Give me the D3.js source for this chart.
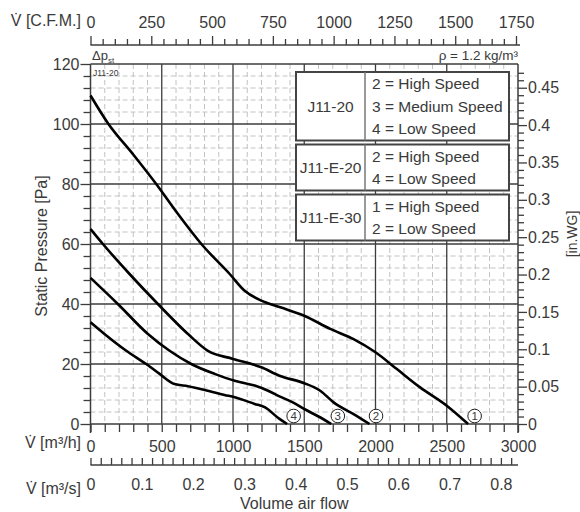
<!DOCTYPE html>
<html>
<head>
<meta charset="utf-8">
<script src="https://cdn.jsdelivr.net/npm/d3@7/dist/d3.min.js"></script>
<style>
  html, body { margin: 0; padding: 0; background: #fff; }
  svg { display: block; }
  text { font-family: "Liberation Sans", Arial, sans-serif; fill: #3a3a3a; }
</style>
</head>
<body>
<script>
// ---------------- DATA ----------------
const curve1Flow = [0, 126, 297, 461, 614, 778, 977, 1082, 1199, 1332, 1500, 1682, 1846, 2000, 2150, 2313, 2500, 2650];
const curve1Pa   = [109.5, 100, 90, 80, 70, 60, 50, 44.4, 41.1, 38.9, 36.1, 31.7, 28.3, 23.9, 18.3, 12.2, 6.1, 0];

const curve2Flow = [0, 87, 274, 473, 684, 824, 1000, 1199, 1326, 1500, 1612, 1706, 1846, 1958];
const curve2Pa   = [65, 60, 50, 40, 30, 24.4, 21.7, 18.9, 16.1, 13.6, 11.1, 7.2, 3.3, 0];

const curve3Flow = [0, 192, 403, 555, 707, 871, 1012, 1152, 1246, 1326, 1420, 1500, 1600, 1690];
const curve3Pa   = [48.7, 40, 30, 24.4, 20, 16.7, 14.4, 12.8, 11.1, 9.2, 7.2, 5.0, 2.5, 0];

const curve4Flow = [0, 98, 251, 391, 485, 590, 684, 824, 941, 1012, 1152, 1222, 1326, 1380];
const curve4Pa   = [33.9, 30, 24.4, 20, 16.7, 13.3, 12.6, 11.1, 9.7, 8.9, 6.7, 5.6, 1.7, 0];

const curveNames = ["1", "2", "3", "4"];

const flowTicksM3h = [0, 500, 1000, 1500, 2000, 2500, 3000];
const flowTicksCfm = [0, 250, 500, 750, 1000, 1250, 1500, 1750];
const flowTicksM3s = [0, 0.1, 0.2, 0.3, 0.4, 0.5, 0.6, 0.7, 0.8];
const paTicks = [0, 20, 40, 60, 80, 100, 120];
const inwgTicks = [0, 0.05, 0.1, 0.15, 0.2, 0.25, 0.3, 0.35, 0.4, 0.45];

const legendModels = ["J11-20", "J11-E-20", "J11-E-30"];
const legendLines = [
  ["2 = High Speed", "3 = Medium Speed", "4 = Low Speed"],
  ["2 = High Speed", "4 = Low Speed"],
  ["1 = High Speed", "2 = Low Speed"]
];

// ---------------- SETUP ----------------
const W = 580, H = 512;
const svg = d3.select("body").append("svg").attr("width", W).attr("height", H);
svg.append("rect").attr("width", W).attr("height", H).attr("fill", "#fff");

const L = 90.5, R = 518, T = 64, B = 424;
const x = d3.scaleLinear().domain([0, 3000]).range([L, R]);
const y = d3.scaleLinear().domain([0, 120]).range([B, T]);
const yIn = d3.scaleLinear().domain([0, 120 / 249.089]).range([B, T]);
const xCfm = d3.scaleLinear().domain([0, 1750]).range([L, 516]);
const xMs = d3.scaleLinear().domain([0, 3000 / 3600]).range([L, R]);

const gridColor = "#3c3c3c";
const minorColor = "#c2c2c2";
const textColor = "#3a3a3a";

// minor dashed grid
const g = svg.append("g");
g.selectAll("line.vminor").data(d3.range(100, 3000, 100).filter(v => v % 500 !== 0))
  .enter().append("line")
  .attr("x1", d => x(d)).attr("x2", d => x(d)).attr("y1", y(120)).attr("y2", y(0))
  .attr("stroke", minorColor).attr("stroke-width", 1).attr("stroke-dasharray", "5,3");
g.selectAll("line.hminor").data(d3.range(4, 120, 4).filter(v => v % 20 !== 0))
  .enter().append("line")
  .attr("x1", x(0)).attr("x2", x(3000)).attr("y1", d => y(d)).attr("y2", d => y(d))
  .attr("stroke", minorColor).attr("stroke-width", 1).attr("stroke-dasharray", "5,3");

// major grid
g.selectAll("line.vmajor").data([500, 1000, 1500, 2000, 2500])
  .enter().append("line")
  .attr("x1", d => x(d)).attr("x2", d => x(d)).attr("y1", y(120)).attr("y2", y(0))
  .attr("stroke", gridColor).attr("stroke-width", 1.3);
g.selectAll("line.hmajor").data([20, 40, 60, 80, 100, 120])
  .enter().append("line")
  .attr("x1", x(0)).attr("x2", x(3000)).attr("y1", d => y(d)).attr("y2", d => y(d))
  .attr("stroke", gridColor).attr("stroke-width", 1.3);

// ---------------- AXES ----------------
function styleAxis(sel) {
  sel.select(".domain").remove();
  sel.selectAll("line").attr("stroke", gridColor).attr("stroke-width", 1.3);
  sel.selectAll("text").style("font-size", "16px").attr("fill", textColor);
}

// left axis (Pa)
const gl = svg.append("g").attr("transform", `translate(${L},0)`);
gl.call(d3.axisLeft(y).tickValues(d3.range(0, 121, 4)).tickSize(7).tickFormat(""));
gl.call(styleAxis);
gl.selectAll(".tick line").filter(d => d % 20 === 0).attr("x2", -10);
const glLab = svg.append("g").attr("transform", `translate(${L},0)`)
  .call(d3.axisLeft(y).tickValues(paTicks).tickSize(10).tickPadding(1));
glLab.call(styleAxis);
glLab.selectAll("line").remove();

svg.append("line").attr("x1", L).attr("x2", L).attr("y1", T).attr("y2", B + 9)
  .attr("stroke", gridColor).attr("stroke-width", 1.5);

// right axis (in.WG)
const gr = svg.append("g").attr("transform", `translate(${R},0)`);
gr.call(d3.axisRight(yIn).tickValues(d3.range(0, 48).map(i => i / 100)).tickSize(6).tickFormat(""));
gr.call(styleAxis);
gr.selectAll(".tick line").filter(d => Math.round(d * 100) % 5 === 0).attr("x2", 9);
const grLab = svg.append("g").attr("transform", `translate(${R},0)`)
  .call(d3.axisRight(yIn).tickValues(inwgTicks).tickSize(9).tickPadding(1).tickFormat(d => d3.format("~g")(d)));
grLab.call(styleAxis);
grLab.selectAll("line").remove();
svg.append("line").attr("x1", R).attr("x2", R).attr("y1", T).attr("y2", B + 9)
  .attr("stroke", gridColor).attr("stroke-width", 1.5);

// bottom axis (m3/h)
const gb = svg.append("g").attr("transform", `translate(0,${B})`);
gb.call(d3.axisBottom(x).tickValues(d3.range(0, 3001, 100)).tickSize(8).tickFormat(""));
gb.call(styleAxis);
const gbLab = svg.append("g").attr("transform", `translate(0,${B})`)
  .call(d3.axisBottom(x).tickValues(flowTicksM3h).tickSize(9).tickPadding(8).tickFormat(d3.format("d")));
gbLab.call(styleAxis);
gbLab.selectAll("line").remove();
svg.append("line").attr("x1", L).attr("x2", R).attr("y1", B).attr("y2", B)
  .attr("stroke", gridColor).attr("stroke-width", 1.5);

// top axis (CFM)
const cfmY = 45;
const gt = svg.append("g").attr("transform", `translate(0,${cfmY})`);
gt.call(d3.axisTop(xCfm).tickValues(d3.range(0, 1751, 50)).tickSize(6).tickFormat(""));
gt.call(styleAxis);
gt.selectAll(".tick line").filter(d => d % 250 === 0).attr("y2", -9);
const gtLab = svg.append("g").attr("transform", `translate(0,${cfmY})`)
  .call(d3.axisTop(xCfm).tickValues(flowTicksCfm).tickSize(9).tickPadding(8).tickFormat(d3.format("d")));
gtLab.call(styleAxis);
gtLab.selectAll("line").remove();
svg.append("line").attr("x1", L).attr("x2", 520).attr("y1", cfmY).attr("y2", cfmY)
  .attr("stroke", gridColor).attr("stroke-width", 1.5);

// m3/s axis
const msY = 465;
const gs = svg.append("g").attr("transform", `translate(0,${msY})`);
gs.call(d3.axisTop(xMs).tickValues(d3.range(0, 42).map(i => i * 0.02)).tickSize(7).tickFormat(""));
gs.call(styleAxis);
const gsLab = svg.append("g").attr("transform", `translate(0,${msY})`)
  .call(d3.axisBottom(xMs).tickValues(flowTicksM3s).tickSize(0).tickPadding(14).tickFormat(d => d3.format("~g")(d)));
gsLab.call(styleAxis);
gsLab.selectAll("line").remove();
svg.append("line").attr("x1", L).attr("x2", R).attr("y1", msY).attr("y2", msY)
  .attr("stroke", gridColor).attr("stroke-width", 1.5);

// axis unit labels
const unitLabel = (txt, yy) => svg.append("text").attr("x", 81).attr("y", yy)
  .attr("text-anchor", "end").style("font-size", "16px").text(txt);
unitLabel("V\u0307 [C.F.M.]", 26);
unitLabel("V\u0307 [m\u00B3/h]", 448);
unitLabel("V\u0307 [m\u00B3/s]", 494);

svg.append("text").attr("x", (L + R) / 2 - 10).attr("y", 509).attr("text-anchor", "middle")
  .style("font-size", "16px").text("Volume air flow");

svg.append("text").attr("transform", `translate(47,${(T + B) / 2 + 2}) rotate(-90)`)
  .attr("text-anchor", "middle").style("font-size", "16px").text("Static Pressure [Pa]");

svg.append("text").attr("transform", `translate(577,234) rotate(-90)`)
  .attr("text-anchor", "middle").style("font-size", "14px").text("[in.WG]");

// top annotations
const dp = svg.append("text").attr("x", 92).attr("y", 60).style("font-size", "13px");
dp.append("tspan").text("\u0394p");
dp.append("tspan").attr("dy", 3).style("font-size", "8px").text("st");
svg.append("text").attr("x", R).attr("y", 60).attr("text-anchor", "end")
  .style("font-size", "13.5px").text("\u03C1 = 1.2 kg/m\u00B3");
svg.append("text").attr("x", 93).attr("y", 76).style("font-size", "8.5px").attr("fill", "#555")
  .text("J11-20");

// ---------------- CURVES ----------------
const curves = [
  curve1Flow.map((f, i) => [f, curve1Pa[i]]),
  curve2Flow.map((f, i) => [f, curve2Pa[i]]),
  curve3Flow.map((f, i) => [f, curve3Pa[i]]),
  curve4Flow.map((f, i) => [f, curve4Pa[i]])
];
const line = d3.line().x(d => x(d[0])).y(d => y(d[1])).curve(d3.curveMonotoneX);
svg.append("g").selectAll("path").data(curves).enter().append("path")
  .attr("d", line).attr("fill", "none").attr("stroke", "#000")
  .attr("stroke-width", 2.6).attr("stroke-linejoin", "round");

// circled curve numbers near curve ends
const lab = svg.append("g").selectAll("g").data(curves).enter().append("g")
  .attr("transform", d => `translate(${x(d[d.length - 1][0]) + 6.5},${y(0) - 8})`);
lab.append("circle").attr("r", 6.8).attr("fill", "#fff").attr("stroke", "#222").attr("stroke-width", 1);
lab.append("text").attr("text-anchor", "middle").attr("dy", "0.36em")
  .style("font-size", "11.5px").text((d, i) => curveNames[i]);

// ---------------- LEGEND ----------------
const rowH = 22.5, boxL = 296, boxR = 509, divX = 365;
let boxTop = 72;
legendModels.forEach((m, i) => {
  const n = legendLines[i].length;
  const h = n * rowH + 1;
  const gg = svg.append("g");
  gg.append("rect").attr("x", boxL).attr("y", boxTop).attr("width", boxR - boxL).attr("height", h)
    .attr("fill", "#fff").attr("stroke", "#444").attr("stroke-width", 2);
  gg.append("line").attr("x1", divX).attr("x2", divX).attr("y1", boxTop).attr("y2", boxTop + h)
    .attr("stroke", "#777").attr("stroke-width", 1.5);
  gg.append("text").attr("x", (boxL + divX) / 2).attr("y", boxTop + h / 2).attr("dy", "0.35em")
    .attr("text-anchor", "middle").style("font-size", "15.5px").text(m);
  legendLines[i].forEach((t, j) => {
    gg.append("text").attr("x", divX + 7).attr("y", boxTop + 0.5 + rowH * (j + 0.5)).attr("dy", "0.35em")
      .style("font-size", "15.5px").text(t);
  });
  boxTop += h + 4;
});
</script>
</body>
</html>
